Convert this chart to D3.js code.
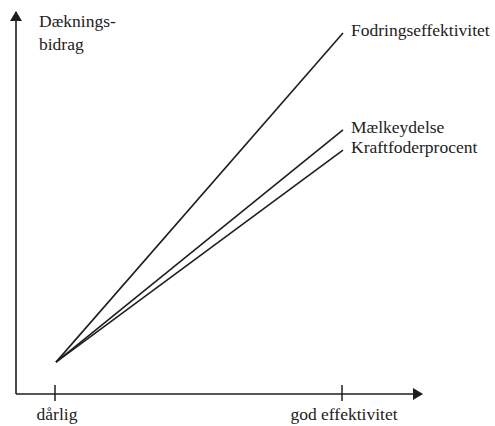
<!DOCTYPE html>
<html>
  <head>
    <meta charset="utf-8">
    <title>Daekningsbidrag</title>
    <script src="https://cdnjs.cloudflare.com/ajax/libs/d3/7.8.5/d3.min.js"></script>
    <style>
      body { margin: 0; background: #fff; }
      text { font-family: "Liberation Serif", "DejaVu Serif", serif; fill: #222; }
    </style>
  </head>
  <body>
    <div id="chart"></div>
    <script type="text/javascript">
      // x categories (effektivitet) and tick labels
      var xTicks = [0, 1];
      var xLabels = ["dårlig", "god effektivitet"];

      // one line per measure, values at dårlig and god
      var seriesNames = ["Fodringseffektivitet", "Mælkeydelse", "Kraftfoderprocent"];
      var startValues = [8.3, 8.3, 8.3];
      var endValues = [94, 68.8, 63.5];

      var yLabel = ["Dæknings-", "bidrag"];

      var w = 495, h = 426;

      var x = d3.scaleLinear().domain([0, 1]).range([56, 343]);
      var y = d3.scaleLinear().domain([0, 100]).range([394, 10]);

      var svg = d3.select("#chart").append("svg")
        .attr("width", w)
        .attr("height", h);

      var ink = "#1e1e1e";

      // arrowhead
      svg.append("defs").append("marker")
        .attr("id", "arrow")
        .attr("viewBox", "0 0 10 12")
        .attr("refX", 9).attr("refY", 6)
        .attr("markerWidth", 10).attr("markerHeight", 12)
        .attr("markerUnits", "userSpaceOnUse")
        .attr("orient", "auto")
        .append("path")
        .attr("d", "M0,0L10,6L0,12z")
        .style("fill", ink);

      // axes
      var x0 = 16;
      svg.append("line")
        .attr("x1", x0).attr("y1", y(0))
        .attr("x2", 422).attr("y2", y(0))
        .attr("stroke", ink).attr("stroke-width", 1.6)
        .attr("marker-end", "url(#arrow)");
      svg.append("line")
        .attr("x1", x0).attr("y1", y(0))
        .attr("x2", x0).attr("y2", y(100) + 2)
        .attr("stroke", ink).attr("stroke-width", 1.6)
        .attr("marker-end", "url(#arrow)");

      // ticks
      svg.selectAll("line.tick")
        .data(xTicks)
        .enter()
        .append("line")
        .attr("class", "tick")
        .attr("x1", function(d) { return x(d) - 1; })
        .attr("x2", function(d) { return x(d) - 1; })
        .attr("y1", y(0) - 9)
        .attr("y2", y(0) + 7)
        .attr("stroke", ink).attr("stroke-width", 1.5);

      svg.selectAll("text.xlab")
        .data(xTicks)
        .enter()
        .append("text")
        .attr("class", "xlab")
        .attr("x", function(d) { return x(d) + 1; })
        .attr("y", 420)
        .attr("text-anchor", "middle")
        .style("font-size", "17.5px")
        .text(function(d, i) { return xLabels[i]; });

      // y axis label
      svg.selectAll("text.ylab")
        .data(yLabel)
        .enter()
        .append("text")
        .attr("class", "ylab")
        .attr("x", 39)
        .attr("y", function(d, i) { return 27 + i * 23; })
        .style("font-size", "17.5px")
        .text(function(d) { return d; });

      // lines
      var line = d3.line()
        .x(function(d) { return x(d[0]); })
        .y(function(d) { return y(d[1]); });

      svg.selectAll("path.series")
        .data(seriesNames)
        .enter()
        .append("path")
        .attr("class", "series")
        .attr("d", function(d, i) { return line([[0, startValues[i]], [1, endValues[i]]]); })
        .attr("fill", "none")
        .attr("stroke", ink)
        .attr("stroke-width", 1.6);

      svg.selectAll("text.series")
        .data(seriesNames)
        .enter()
        .append("text")
        .attr("class", "series")
        .attr("x", x(1) + 8)
        .attr("y", function(d, i) { return y(endValues[i]) + 3; })
        .style("font-size", "17.5px")
        .text(function(d) { return d; });
    </script>
  </body>
</html>
